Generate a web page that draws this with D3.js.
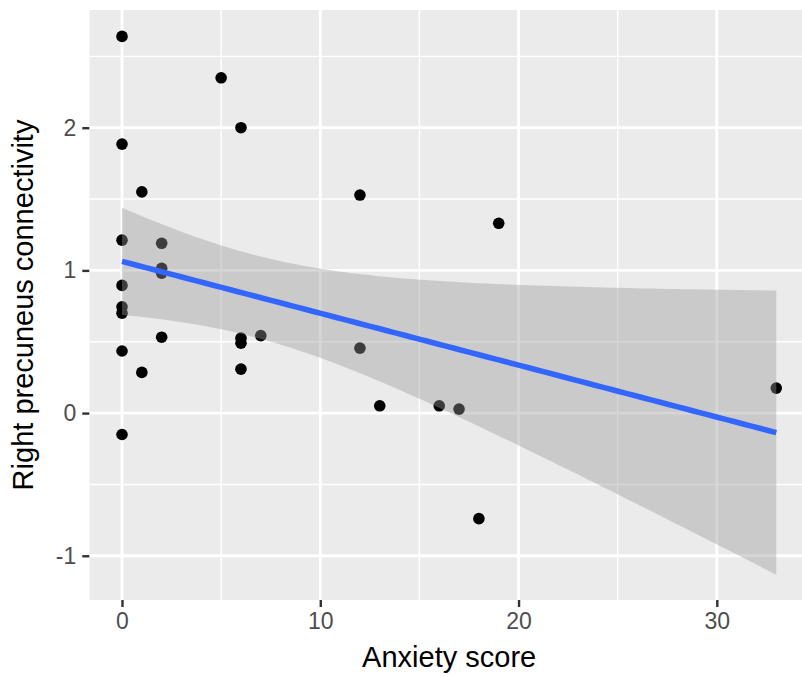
<!DOCTYPE html>
<html>
<head>
<meta charset="utf-8">
<script src="https://cdn.jsdelivr.net/npm/d3@7"></script>
<style>
  html, body { margin: 0; padding: 0; background: #fff; }
  svg { display: block; font-family: "Liberation Sans", Arial, Helvetica, sans-serif; }
</style>
</head>
<body>
<svg id="chart" width="802" height="677"></svg>
<script>
// anxiety score (x) and right precuneus connectivity (y)
const anxiety = [
  0, 0, 0, 0, 0, 0, 0, 0,
  1, 1,
  2, 2, 2, 2,
  5,
  6, 6, 6, 6,
  7,
  12, 12,
  13, 16, 17, 18, 19,
  33,
];
const connectivity = [
  2.64, 1.885, 1.212, 0.895, 0.745, 0.70, 0.435, -0.15,
  1.55, 0.285,
  1.19, 1.015, 0.98, 0.532,
  2.35,
  2.0, 0.525, 0.49, 0.308,
  0.543,
  1.528, 0.455,
  0.051, 0.051, 0.028, -0.74, 1.33,
  0.175,
];

const xTicks = [0, 10, 20, 30];
const xMinor = [5, 15, 25];
const yTicks = [-1, 0, 1, 2];
const yMinor = [-0.5, 0.5, 1.5, 2.5];

// panel limits (ggplot's 5% expansion)
const xLimits = [-1.65, 34.65];
const yLimits = [-1.31, 2.825];

// t quantile (0.975) for n - 2 = 26 degrees of freedom
const tCrit = 2.056;

const svg = d3.select('#chart');
const panel = { left: 89.3, right: 809, top: 10, bottom: 600 };

const x = d3.scaleLinear().domain(xLimits).range([panel.left, panel.right]);
const y = d3.scaleLinear().domain(yLimits).range([panel.bottom, panel.top]);

// linear fit, same as geom_smooth(method = "lm")
const pts = anxiety.map((d, i) => ({ x: d, y: connectivity[i] }));
const n = pts.length;
const mx = d3.mean(pts, d => d.x);
const my = d3.mean(pts, d => d.y);
const sxx = d3.sum(pts, d => (d.x - mx) ** 2);
const sxy = d3.sum(pts, d => (d.x - mx) * (d.y - my));
const slope = sxy / sxx;
const intercept = my - slope * mx;
const rss = d3.sum(pts, d => (d.y - (intercept + slope * d.x)) ** 2);
const sigma = Math.sqrt(rss / (n - 2));

const [xLo, xHi] = d3.extent(anxiety);
const fit = d3.range(80).map((i) => {
  const xv = xLo + (xHi - xLo) * i / 79;
  const yv = intercept + slope * xv;
  const se = sigma * Math.sqrt(1 / n + (xv - mx) ** 2 / sxx);
  return { x: xv, y: yv, lo: yv - tCrit * se, hi: yv + tCrit * se };
});

svg.append('defs').append('clipPath').attr('id', 'clip')
  .append('rect')
    .attr('x', panel.left)
    .attr('y', panel.top)
    .attr('width', panel.right - panel.left)
    .attr('height', panel.bottom - panel.top);

const g = svg.append('g').attr('clip-path', 'url(#clip)');

// panel background
g.append('rect')
  .attr('x', panel.left)
  .attr('y', panel.top)
  .attr('width', panel.right - panel.left)
  .attr('height', panel.bottom - panel.top)
  .attr('fill', '#ebebeb');

// minor grid
g.selectAll('.vminor').data(xMinor).enter().append('line')
  .attr('x1', d => x(d)).attr('x2', d => x(d))
  .attr('y1', panel.top).attr('y2', panel.bottom)
  .attr('stroke', '#fff').attr('stroke-width', 1.4);
g.selectAll('.hminor').data(yMinor).enter().append('line')
  .attr('y1', d => y(d)).attr('y2', d => y(d))
  .attr('x1', panel.left).attr('x2', panel.right)
  .attr('stroke', '#fff').attr('stroke-width', 1.4);

// major grid
g.selectAll('.vmajor').data(xTicks).enter().append('line')
  .attr('x1', d => x(d)).attr('x2', d => x(d))
  .attr('y1', panel.top).attr('y2', panel.bottom)
  .attr('stroke', '#fff').attr('stroke-width', 2.8);
g.selectAll('.hmajor').data(yTicks).enter().append('line')
  .attr('y1', d => y(d)).attr('y2', d => y(d))
  .attr('x1', panel.left).attr('x2', panel.right)
  .attr('stroke', '#fff').attr('stroke-width', 2.8);

// points go under the ribbon
g.selectAll('circle').data(pts).enter().append('circle')
  .attr('cx', d => x(d.x))
  .attr('cy', d => y(d.y))
  .attr('r', 5.8)
  .attr('fill', '#000');

const band = d3.area()
  .x(d => x(d.x))
  .y0(d => y(d.lo))
  .y1(d => y(d.hi));

g.append('path')
  .datum(fit)
  .attr('d', band)
  .attr('fill', '#999999')
  .attr('fill-opacity', 0.4);

const line = d3.line()
  .x(d => x(d.x))
  .y(d => y(d.y));

g.append('path')
  .datum(fit)
  .attr('d', line)
  .attr('fill', 'none')
  .attr('stroke', '#3366ff')
  .attr('stroke-width', 5.6);

// x axis
const xAxis = svg.append('g')
  .attr('transform', `translate(0, ${panel.bottom})`)
  .call(d3.axisBottom(x).tickValues(xTicks).tickFormat(d => String(d))
    .tickSize(7).tickPadding(6));
xAxis.select('.domain').remove();
xAxis.selectAll('.tick line').attr('stroke', '#333').attr('stroke-width', 2.4);
xAxis.selectAll('.tick text')
  .attr('fill', '#4d4d4d')
  .style('font-size', '23px');

// y axis
const yAxis = svg.append('g')
  .attr('transform', `translate(${panel.left}, 0)`)
  .call(d3.axisLeft(y).tickValues(yTicks).tickFormat(d => String(d))
    .tickSize(7).tickPadding(6));
yAxis.select('.domain').remove();
yAxis.selectAll('.tick line').attr('stroke', '#333').attr('stroke-width', 2.4);
yAxis.selectAll('.tick text')
  .attr('fill', '#4d4d4d')
  .style('font-size', '23px');

// axis titles
svg.append('text')
  .attr('x', (panel.left + panel.right) / 2)
  .attr('y', 667)
  .attr('text-anchor', 'middle')
  .attr('fill', '#000')
  .style('font-size', '29px')
  .text('Anxiety score');

svg.append('text')
  .attr('transform', `translate(33, ${(panel.top + panel.bottom) / 2}) rotate(-90)`)
  .attr('text-anchor', 'middle')
  .attr('fill', '#000')
  .style('font-size', '29px')
  .text('Right precuneus connectivity');
</script>
</body>
</html>
